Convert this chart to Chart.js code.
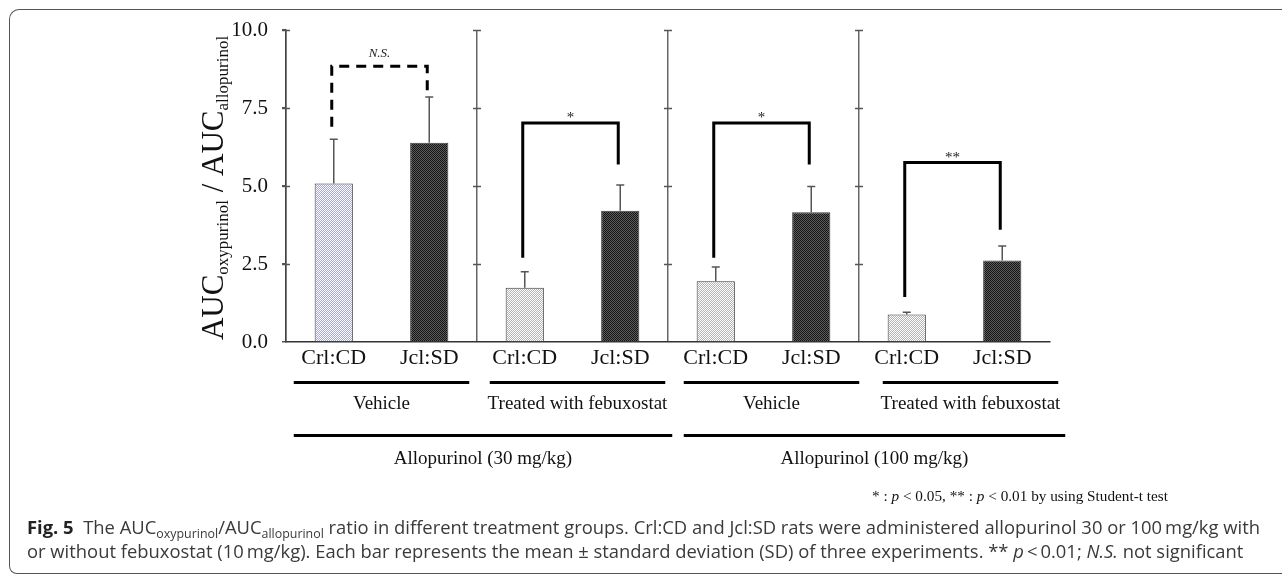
<!DOCTYPE html>
<html>
<head>
<meta charset="utf-8">
<script src="https://cdn.jsdelivr.net/npm/chart.js@4.4.0/dist/chart.umd.min.js"></script>
<style>
  html, body { margin: 0; padding: 0; background: #fff; }
  #wrap { position: relative; width: 1282px; height: 574px; overflow: hidden; }
  #frame { position: absolute; left: 9px; top: 9px; width: 1400px; height: 563px;
           border-left: 1.5px solid #555; border-top: 1.5px solid #555; border-bottom: 1.5px solid #555;
           border-radius: 10px 0 0 8px; }
  #myChart { position: absolute; left: 0; top: 0; }
  .foot { position: absolute; left: 872px; top: 488px; font-family: "Liberation Serif", serif;
          font-size: 15px; color: #111; white-space: nowrap; transform-origin: 0 0; }
  .cap { position: absolute; left: 27px; font-family: "Open Sans", sans-serif; font-size: 18.5px;
         line-height: 24px; color: #3a3a3a; white-space: nowrap; transform-origin: 0 0; }
  .cap sub { font-size: 12.5px; vertical-align: -4px; line-height: 0; }
  .cap b { color: #222; }
</style>
</head>
<body>
<div id="wrap">
  <div id="frame"></div>
  <canvas id="myChart" width="1282" height="574"></canvas>
  <div class="foot" id="foot">* : <i>p</i> &lt; 0.05, ** : <i>p</i> &lt; 0.01 by using Student-t test</div>
  <div class="cap" id="cap1" style="top:515px"><b>Fig. 5</b>&nbsp; The AUC<sub>oxypurinol</sub>/AUC<sub>allopurinol</sub> ratio in different treatment groups. Crl:CD and Jcl:SD rats were administered allopurinol 30 or 100&#8201;mg/kg with</div>
  <div class="cap" id="cap2" style="top:539px">or without febuxostat (10&#8201;mg/kg). Each bar represents the mean &#177; standard deviation (SD) of three experiments. ** <i>p</i>&#8201;&lt;&#8201;0.01; <i>N.S.</i> not significant</div>
</div>
<script>
// dati
const labels = ["Crl:CD", "Jcl:SD", "Crl:CD", "Jcl:SD", "Crl:CD", "Jcl:SD", "Crl:CD", "Jcl:SD"];
const means = [5.08, 6.39, 1.74, 4.21, 1.95, 4.16, 0.88, 2.61];
const sds = [1.42, 1.46, 0.51, 0.82, 0.45, 0.82, 0.07, 0.47];
const yTicks = [0, 2.5, 5, 7.5, 10];

// parentesi di significativita' (una per pannello)
const bracketTop = [8.84, 7.02, 7.02, 5.75];
const bracketLeftEnd = [6.90, 2.70, 2.70, 1.44];
const bracketRightEnd = [8.07, 5.69, 5.69, 3.60];
const bracketMark = ["N.S.", "*", "*", "**"];

const groups = ["Vehicle", "Treated with febuxostat", "Vehicle", "Treated with febuxostat"];
const doses = ["Allopurinol (30 mg/kg)", "Allopurinol (100 mg/kg)"];

function makePattern(bg, dot) {
  const c = document.createElement('canvas');
  c.width = 2; c.height = 2;
  const g = c.getContext('2d');
  g.fillStyle = bg; g.fillRect(0, 0, 2, 2);
  g.fillStyle = dot; g.fillRect(1, 0, 1, 1); g.fillRect(0, 1, 1, 1);
  return g.createPattern(c, 'repeat');
}
const lightBlue = makePattern('#ffffff', '#a9a9cf');
const light = makePattern('#ffffff', '#b4b4b4');
const dark = makePattern('#151515', '#5c5c5c');
const fills = [lightBlue, dark, light, dark, light, dark, light, dark];

const SERIF = '"Liberation Serif", "Times New Roman", serif';

const errorBars = {
  id: 'errorBars',
  afterDatasetsDraw(chart) {
    const ctx = chart.ctx;
    const y = chart.scales.y;
    const meta = chart.getDatasetMeta(0);
    ctx.save();
    ctx.strokeStyle = '#555';
    ctx.lineWidth = 1.5;
    meta.data.forEach((bar, i) => {
      const top = y.getPixelForValue(means[i] + sds[i]);
      ctx.beginPath();
      ctx.moveTo(bar.x, bar.y);
      ctx.lineTo(bar.x, top);
      ctx.moveTo(bar.x - 4, top);
      ctx.lineTo(bar.x + 4, top);
      ctx.stroke();
    });
    ctx.restore();
  }
};

const brackets = {
  id: 'brackets',
  afterDatasetsDraw(chart) {
    const ctx = chart.ctx;
    const y = chart.scales.y;
    const meta = chart.getDatasetMeta(0);
    ctx.save();
    ctx.strokeStyle = '#000';
    ctx.lineWidth = 3;
    ctx.lineCap = 'butt';
    for (let k = 0; k < bracketTop.length; k++) {
      const xl = meta.data[2 * k].x - 2;
      const xr = meta.data[2 * k + 1].x - 2;
      const yt = y.getPixelForValue(bracketTop[k]);
      ctx.setLineDash(k === 0 ? [10, 7] : []);
      ctx.beginPath();
      ctx.moveTo(xl, y.getPixelForValue(bracketLeftEnd[k]));
      ctx.lineTo(xl, yt);
      ctx.lineTo(xr, yt);
      ctx.lineTo(xr, y.getPixelForValue(bracketRightEnd[k]));
      ctx.stroke();
      ctx.setLineDash([]);
      ctx.fillStyle = '#222';
      ctx.textAlign = 'center';
      ctx.textBaseline = 'alphabetic';
      ctx.font = k === 0 ? 'italic 13px ' + SERIF : '15px ' + SERIF;
      ctx.fillText(bracketMark[k], (xl + xr) / 2, k === 0 ? yt - 9 : yt - 1);
    }
    ctx.restore();
  }
};

const panelAxes = {
  id: 'panelAxes',
  afterDraw(chart) {
    const ctx = chart.ctx;
    const x = chart.scales.x, y = chart.scales.y;
    const half = (x.getPixelForValue(1) - x.getPixelForValue(0)) / 2;
    ctx.save();
    ctx.strokeStyle = '#555';
    ctx.lineWidth = 1.5;
    for (let i = 0; i < labels.length; i += 2) {
      const bx = Math.round(x.getPixelForValue(i) - half);
      yTicks.forEach(v => {
        if (v === 0) return;
        const py = Math.round(y.getPixelForValue(v)) + 0.5;
        ctx.beginPath();
        ctx.moveTo(bx - 4, py);
        ctx.lineTo(bx + 4, py);
        ctx.stroke();
      });
    }

    // titolo asse y con pedici
    ctx.translate(223, 188);
    ctx.rotate(-Math.PI / 2);
    const parts = [["AUC", 0], ["oxypurinol", 1], [" / AUC", 0], ["allopurinol", 1]];
    const mainF = '31px ' + SERIF, subF = '17px ' + SERIF;
    let total = 0;
    parts.forEach(p => { ctx.font = p[1] ? subF : mainF; total += ctx.measureText(p[0]).width; });
    let cx = -total / 2;
    ctx.fillStyle = '#111';
    ctx.textBaseline = 'alphabetic';
    ctx.textAlign = 'left';
    parts.forEach(p => {
      ctx.font = p[1] ? subF : mainF;
      ctx.fillText(p[0], cx, p[1] ? 5 : 0);
      cx += ctx.measureText(p[0]).width;
    });
    ctx.restore();

    // linee e etichette dei gruppi sotto l'asse
    ctx.save();
    const shift = [0, 5, 8, 16];
    const spans = [];
    ctx.strokeStyle = '#000';
    ctx.lineWidth = 3;
    ctx.fillStyle = '#111';
    ctx.textAlign = 'center';
    ctx.textBaseline = 'alphabetic';
    ctx.font = '19px ' + SERIF;
    for (let g = 0; g < groups.length; g++) {
      const l = x.getPixelForValue(2 * g) - 40 + shift[g];
      const r = x.getPixelForValue(2 * g + 1) + 40 + shift[g];
      spans.push([l, r]);
      ctx.beginPath();
      ctx.moveTo(l, 382.5);
      ctx.lineTo(r, 382.5);
      ctx.stroke();
      ctx.fillText(groups[g], (l + r) / 2, 409);
    }
    for (let d = 0; d < doses.length; d++) {
      const l = spans[2 * d][0];
      const r = spans[2 * d + 1][1] + 7;
      ctx.beginPath();
      ctx.moveTo(l, 435.5);
      ctx.lineTo(r, 435.5);
      ctx.stroke();
      ctx.fillText(doses[d], (l + r) / 2, 464);
    }
    ctx.restore();
  }
};

const data = {
  labels: labels,
  datasets: [{
    data: means,
    backgroundColor: fills,
    borderColor: '#3a3a3a',
    borderWidth: 1,
    borderSkipped: 'bottom',
    categoryPercentage: 1,
    barPercentage: 0.4
  }]
};

const config = {
  type: 'bar',
  data: data,
  options: {
    responsive: false,
    animation: false,
    devicePixelRatio: 1,
    layout: { padding: { top: 30, right: 232, bottom: 192, left: 0 } },
    plugins: {
      legend: { display: false },
      tooltip: { enabled: false }
    },
    scales: {
      x: {
        afterFit: s => { s.height = 40; },
        grid: {
          drawTicks: false,
          lineWidth: 1.5,
          color: c => (c.index % 2 === 0 && c.index < labels.length) ? '#666' : 'rgba(0,0,0,0)'
        },
        border: { color: '#333', width: 1.5 },
        ticks: { color: '#111', padding: 3, font: { family: SERIF, size: 22 } }
      },
      y: {
        min: 0,
        max: 10,
        afterFit: s => { s.width = 286; },
        afterBuildTicks: s => { s.ticks = yTicks.map(v => ({ value: v })); },
        grid: { drawOnChartArea: false, tickLength: 4, tickColor: '#555', lineWidth: 1.5 },
        border: { color: '#444', width: 1.5 },
        ticks: {
          color: '#111',
          padding: 14,
          font: { family: SERIF, size: 21 },
          callback: v => v.toFixed(1)
        }
      }
    }
  },
  plugins: [errorBars, brackets, panelAxes]
};

const myChart = new Chart(document.getElementById('myChart'), config);

// adatta la larghezza dei testi HTML
function fit(id, w) {
  const el = document.getElementById(id);
  const k = w / el.getBoundingClientRect().width;
  el.style.transform = 'scaleX(' + k + ')';
  return k;
}
fit('foot', 296);
const k = fit('cap1', 1233);
document.getElementById('cap2').style.transform = 'scaleX(' + k + ')';
</script>
</body>
</html>
